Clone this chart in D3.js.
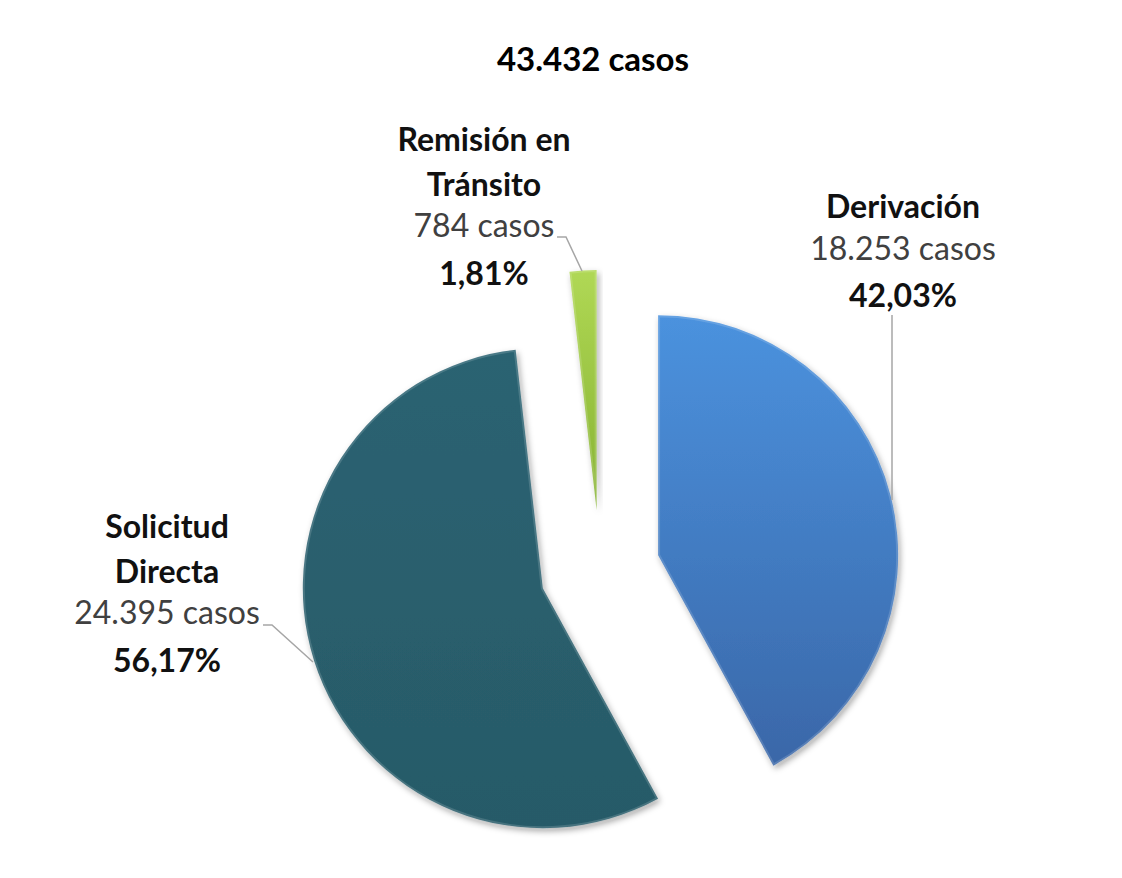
<!DOCTYPE html>
<html><head><meta charset="utf-8">
<script src="https://cdn.jsdelivr.net/npm/d3@7"></script>
<style>body{margin:0;background:#fff}svg{display:block}</style>
</head><body>
<script>
const categories = ["Derivación", "Solicitud Directa", "Remisión en Tránsito"];
const casos = [18253, 24395, 784];
const porcentajes = ["42,03%", "56,17%", "1,81%"];
const casosLabels = ["18.253 casos", "24.395 casos", "784 casos"];
const total = "43.432 casos";
const nameLines = [["Derivación"], ["Solicitud", "Directa"], ["Remisión en", "Tránsito"]];

const W = 1122, H = 878;
const cx = 600, cy = 570, R = 240, explode = 60;
const svg = d3.select("body").append("svg").attr("width", W).attr("height", H);
const defs = svg.append("defs");

const grads = [
  ["#4b92de", "#3a67a8"],
  ["#2c6372", "#275a68"],
  ["#b0d855", "#86b232"]
];
grads.forEach((g, i) => {
  const lg = defs.append("linearGradient").attr("id", "g" + i)
    .attr("x1", 0).attr("y1", 0).attr("x2", 0).attr("y2", 1);
  lg.append("stop").attr("offset", "0%").attr("stop-color", g[0]);
  lg.append("stop").attr("offset", "100%").attr("stop-color", g[1]);
});
const f = defs.append("filter").attr("id", "sh").attr("x", "-20%").attr("y", "-20%").attr("width", "140%").attr("height", "140%");
f.append("feDropShadow").attr("dx", 2).attr("dy", 3).attr("stdDeviation", 3).attr("flood-color", "#000").attr("flood-opacity", 0.35);

const pie = d3.pie().sort(null).value(d => d).startAngle(0).endAngle(2 * Math.PI);
const arcs = pie(casos);
const arc = d3.arc().innerRadius(0).outerRadius(R);

const g = svg.append("g").attr("transform", `translate(${cx},${cy})`);
arcs.forEach((a, i) => {
  const mid = (a.startAngle + a.endAngle) / 2;
  const dx = Math.sin(mid) * explode, dy = -Math.cos(mid) * explode;
  const sg = g.append("g").attr("transform", `translate(${dx},${dy})`);
  sg.append("path").attr("d", arc(a)).attr("fill", `url(#g${i})`).attr("filter", "url(#sh)");
  sg.append("path").attr("d", arc(a)).attr("fill", "none")
    .attr("stroke", "rgba(255,255,255,0.15)").attr("stroke-width", 4);
});

svg.append("text").attr("x", 593).attr("y", 71).attr("text-anchor", "middle")
  .style("font-family", "Lato, 'Open Sans', sans-serif").style("font-weight", "bold")
  .style("font-size", "33px").attr("fill", "#000").text(total);

const labelPos = [
  { x: 903, y: 218 },
  { x: 167, y: 538 },
  { x: 484, y: 151 }
];
const lh = 44.5;
arcs.forEach((a, i) => {
  const p = labelPos[i];
  const t = svg.append("text").attr("text-anchor", "middle")
    .style("font-family", "Lato, 'Open Sans', sans-serif").style("font-size", "32px");
  let y = p.y;
  nameLines[i].forEach(l => {
    t.append("tspan").attr("x", p.x).attr("y", y).attr("font-weight", "bold").attr("fill", "#111").text(l);
    y += lh;
  });
  t.append("tspan").attr("x", p.x).attr("y", y - 3).attr("fill", "#404040").text(casosLabels[i]);
  y += lh;
  t.append("tspan").attr("x", p.x).attr("y", y).attr("font-weight", "bold").attr("fill", "#111").text(porcentajes[i]);
});

// leader lines
const leaders = [
  [[892, 315], [892, 500]],
  [[263, 625], [272, 625], [313, 662]],
  [[557, 237], [566, 237], [582, 271]]
];
leaders.forEach(pts => {
  svg.append("path").attr("d", d3.line()(pts)).attr("fill", "none")
    .attr("stroke", "#a6a6a6").attr("stroke-width", 1.5);
});
</script>
</body></html>
